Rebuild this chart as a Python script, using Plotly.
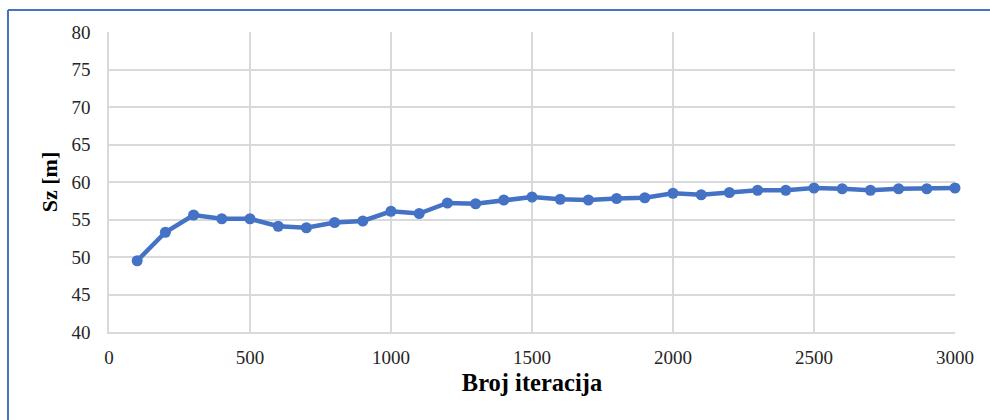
import plotly.graph_objects as go

# Number of iterations and resulting Sz values
iterations = [100, 200, 300, 400, 500, 600, 700, 800, 900, 1000,
              1100, 1200, 1300, 1400, 1500, 1600, 1700, 1800, 1900, 2000,
              2100, 2200, 2300, 2400, 2500, 2600, 2700, 2800, 2900, 3000]
sz_values = [49.5, 53.3, 55.6, 55.1, 55.1, 54.1, 53.9, 54.6, 54.8, 56.1,
             55.8, 57.2, 57.1, 57.6, 58.0, 57.7, 57.6, 57.8, 57.9, 58.5,
             58.3, 58.6, 58.9, 58.9, 59.2, 59.1, 58.9, 59.1, 59.1, 59.2]

x_ticks = [0, 500, 1000, 1500, 2000, 2500, 3000]
y_ticks = [40, 45, 50, 55, 60, 65, 70, 75, 80]

BLUE = "#4472C4"
GRID = "#D9D9D9"
FONT = "Liberation Serif, Times New Roman, DejaVu Serif, serif"

fig = go.Figure()
fig.add_trace(go.Scatter(
    x=iterations, y=sz_values, mode="lines+markers",
    line=dict(color=BLUE, width=4.5),
    marker=dict(color=BLUE, size=11),
    cliponaxis=False,
    showlegend=False,
))

fig.update_layout(
    width=990, height=420,
    margin=dict(l=109, r=35, t=32, b=88),
    paper_bgcolor="white", plot_bgcolor="white",
    font=dict(family=FONT, size=19, color="#262626"),
    xaxis=dict(
        range=[0, 3000], tickvals=x_ticks, ticktext=[str(v) for v in x_ticks],
        tickfont=dict(family=FONT, size=19, color="#262626"),
        showgrid=True, gridcolor=GRID, gridwidth=1.5,
        showline=True, linecolor=GRID, linewidth=1.5,
        zeroline=False, ticks="", ticklabelstandoff=7,
        title=dict(text="<b>Broj iteracija</b>", font=dict(family=FONT, size=24.5, color="#000"),
                   standoff=7),
    ),
    yaxis=dict(
        range=[40, 80], tickvals=y_ticks, ticktext=[str(v) for v in y_ticks],
        tickfont=dict(family=FONT, size=19, color="#262626"),
        showgrid=True, gridcolor=GRID, gridwidth=1.5,
        showline=True, linecolor=GRID, linewidth=1.5,
        zeroline=False, ticks="", ticklabelstandoff=13,
        title=dict(text="<b>Sz [m]</b>", font=dict(family=FONT, size=22, color="#000"),
                   standoff=8),
    ),
    shapes=[
        # frame around the chart (top and left edges)
        dict(type="line", xref="paper", yref="paper", x0=-0.1194, x1=1.05, y0=1.0733, y1=1.0733,
             line=dict(color=BLUE, width=2)),
        dict(type="line", xref="paper", yref="paper", x0=-0.1194, x1=-0.1194, y0=-0.3, y1=1.0733,
             line=dict(color=BLUE, width=2)),
    ],
)

fig.write_html("out.html")
